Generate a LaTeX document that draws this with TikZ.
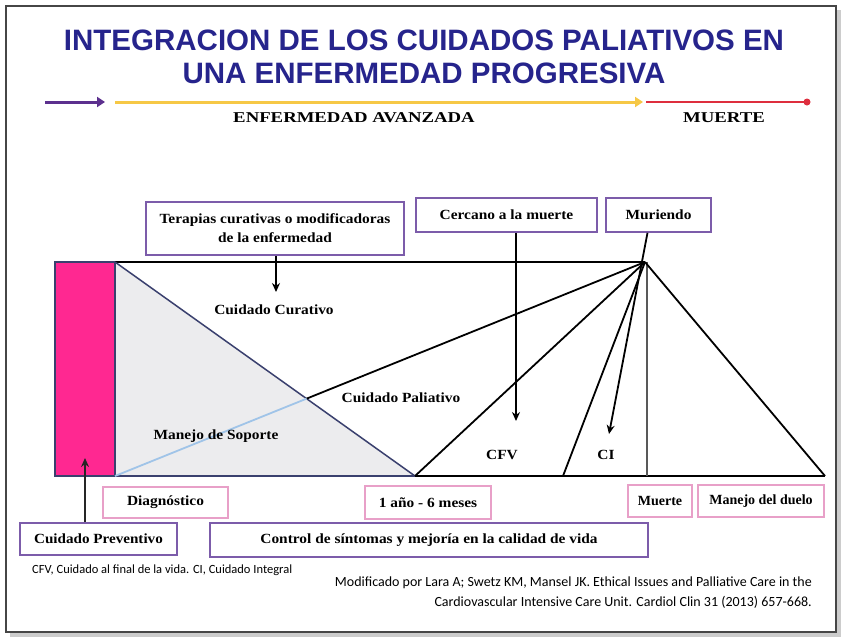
\documentclass[tikz,border=0pt]{standalone}
\usepackage{fontspec}
\setmainfont{Liberation Serif}
\newfontfamily\titlefont{Liberation Sans}
\newfontfamily\notefont{Carlito}
\usetikzlibrary{arrows.meta,calc}
\definecolor{titleblue}{RGB}{38,36,140}
\definecolor{arrpurple}{RGB}{92,48,142}
\definecolor{arryellow}{RGB}{246,200,70}
\definecolor{arrred}{RGB}{222,46,62}
\definecolor{boxpurple}{RGB}{124,92,170}
\definecolor{boxpink}{RGB}{232,160,200}
\definecolor{pinkfill}{RGB}{255,40,145}
\definecolor{navyline}{RGB}{58,64,110}
\definecolor{lightblue}{RGB}{160,196,232}
\definecolor{greyfill}{RGB}{236,236,238}
\tikzset{
  titlestyle/.style={font=\titlefont\bfseries\fontsize{29.5}{31}\selectfont, text=titleblue, inner sep=0pt},
  caplabel/.style={font=\bfseries\fontsize{15}{17}\selectfont, inner sep=0pt, xscale=1.25},
  lbl/.style={font=\bfseries\fontsize{14}{16}\selectfont, inner sep=0pt, xscale=1.1},
  boxtext/.style={font=\bfseries\fontsize{14}{16}\selectfont},
  pbox/.style={draw=boxpurple, line width=1.6pt, fill=white, align=center, inner sep=2pt},
  kbox/.style={draw=boxpink, line width=1.4pt, fill=white, align=center, inner sep=2pt},
  mainline/.style={line width=1.8pt, black},
  arr/.style={line width=1.8pt, black, -{Stealth[length=9pt,width=8pt]}},
  note/.style={inner sep=0pt}
}
\begin{document}
\begin{tikzpicture}[x=1pt,y=-1pt]
\useasboundingbox (0,0) rectangle (848,641);
% frame
\fill[gray!40] (10,10) rectangle (841,637);
\filldraw[fill=white, draw=gray!55!black, line width=1.2pt] (6,6) rectangle (836,632);

% title
\node[titlestyle] (t1) at (424,40) {INTEGRACION DE LOS CUIDADOS PALIATIVOS EN};
\node[titlestyle] (t2) at (424,73) {UNA ENFERMEDAD PROGRESIVA};

% timeline
\coordinate (p1) at (45,102); \coordinate (p2) at (105,102);
\coordinate (y1) at (115,102); \coordinate (y2) at (643,102);
\coordinate (r1) at (646,102); \coordinate (r2) at (807,102);
\draw[arrpurple, line width=3pt, -{Triangle[length=8pt,width=10pt]}] (p1) -- (p2);
\draw[arryellow, line width=3pt, -{Triangle[length=8pt,width=10pt]}] (y1) -- (y2);
\draw[arrred, line width=2.5pt] (r1) -- (r2);
\fill[arrred] (r2) circle (3.5);
\node[caplabel] (ea) at (354,118) {ENFERMEDAD AVANZADA};
\node[caplabel] (mt) at (724,118) {MUERTE};

% main diagram coordinates
\coordinate (tl) at (55,262); \coordinate (bl) at (55,476);
\coordinate (ptr) at (115,262); \coordinate (pbr) at (115,476);
\coordinate (apex) at (645,262); \coordinate (vt) at (647,262);
\coordinate (b1) at (415,476); \coordinate (b2) at (563,476);
\coordinate (b3) at (647,476); \coordinate (b4) at (825,476);
\coordinate (cx) at (intersection of ptr--b1 and apex--pbr);

\fill[greyfill] (ptr) -- (pbr) -- (b1) -- cycle;
\filldraw[fill=pinkfill, draw=navyline, line width=1.6pt] (tl) rectangle (pbr);
\draw[mainline] (ptr) -- (apex);
\draw[navyline, line width=1.6pt] (pbr) -- (b1);
\draw[mainline] (b1) -- (b4);
\draw[navyline, line width=1.5pt] (ptr) -- (b1);
\draw[mainline] (apex) -- (cx);
\draw[lightblue, line width=1.8pt] (cx) -- (pbr);
\draw[mainline] (apex) -- (b1);
\draw[mainline] (apex) -- (b2);
\draw[gray!70!black, line width=1.8pt] (vt) -- (b3);
\draw[mainline] (apex) -- (b4);

% labels inside
\node[lbl] (cc) at (274,310) {Cuidado Curativo};
\node[lbl] (cp) at (401,398) {Cuidado Paliativo};
\node[lbl] (ms) at (216,436) {Manejo de Soporte};
\node[lbl] (cfv) at (502,455) {CFV};
\node[lbl] (ci) at (606,455) {CI};

% top boxes
\node[pbox, minimum width=258pt, minimum height=53pt] (ter) at (275,228.5) {};
\node[boxtext, align=center, xscale=1.1] (tert) at (ter.center) {Terapias curativas o modificadoras\\[3pt]de la enfermedad};
\node[pbox, minimum width=181pt, minimum height=34pt] (cer) at (506.5,215) {};
\node[boxtext, xscale=1.1] (cert) at (cer.center) {Cercano a la muerte};
\node[pbox, minimum width=105pt, minimum height=34pt] (mur) at (658.5,215) {};
\node[boxtext, xscale=1.1] (murt) at (mur.center) {Muriendo};

% bottom boxes
\node[kbox, minimum width=125pt, minimum height=31pt] (dia) at (165.5,502.5) {};
\node[boxtext, xscale=1.1] (diat) at (dia.center) {Diagnóstico};
\node[kbox, minimum width=126pt, minimum height=33pt] (ano) at (428,502.5) {};
\node[boxtext, xscale=1.1] (anot) at (ano.center) {1 año - 6 meses};
\node[kbox, minimum width=64pt, minimum height=32pt] (mub) at (660,501) {};
\node[boxtext, xscale=1.0] (mubt) at (mub.center) {Muerte};
\node[kbox, minimum width=126pt, minimum height=32pt] (due) at (761,501) {};
\node[boxtext, xscale=1.0] (duet) at (due.center) {Manejo del duelo};
\node[pbox, minimum width=157pt, minimum height=32pt] (pre) at (98.5,539) {};
\node[boxtext, xscale=1.08] (pret) at (pre.center) {Cuidado Preventivo};
\node[pbox, minimum width=438pt, minimum height=34pt] (con) at (429,540) {};
\node[boxtext, xscale=1.1] (cont) at (con.center) {Control de síntomas y mejoría en la calidad de vida};

% arrows
\coordinate (tarr) at (276,292);
\draw[arr] (tarr |- ter.south) -- (tarr);
\coordinate (carr) at (516,421);
\draw[arr] (carr |- cer.south) -- (carr);
\coordinate (marr) at (609,434);
\draw[arr] ($(mur.south)+(-11,0)$) -- (marr);
\coordinate (parr) at (85,458);
\draw[line width=2pt, gray!30!black, -{Stealth[length=9pt,width=8pt]}] (parr |- pre.north) -- (parr);

% notes
\node[note, anchor=west, font=\notefont\fontsize{12.5}{14}\selectfont] (n1) at (32,570) {CFV, Cuidado al final de la vida. CI, Cuidado Integral};
\node[note, anchor=east, font=\notefont\fontsize{14}{16}\selectfont] (n2) at (812,583) {Modificado por Lara A; Swetz KM, Mansel JK. Ethical Issues and Palliative Care in the};
\node[note, anchor=east, font=\notefont\fontsize{14}{16}\selectfont] (n3) at (812,602) {Cardiovascular Intensive Care Unit. Cardiol Clin 31 (2013) 657-668.};
\end{tikzpicture}
\end{document}
